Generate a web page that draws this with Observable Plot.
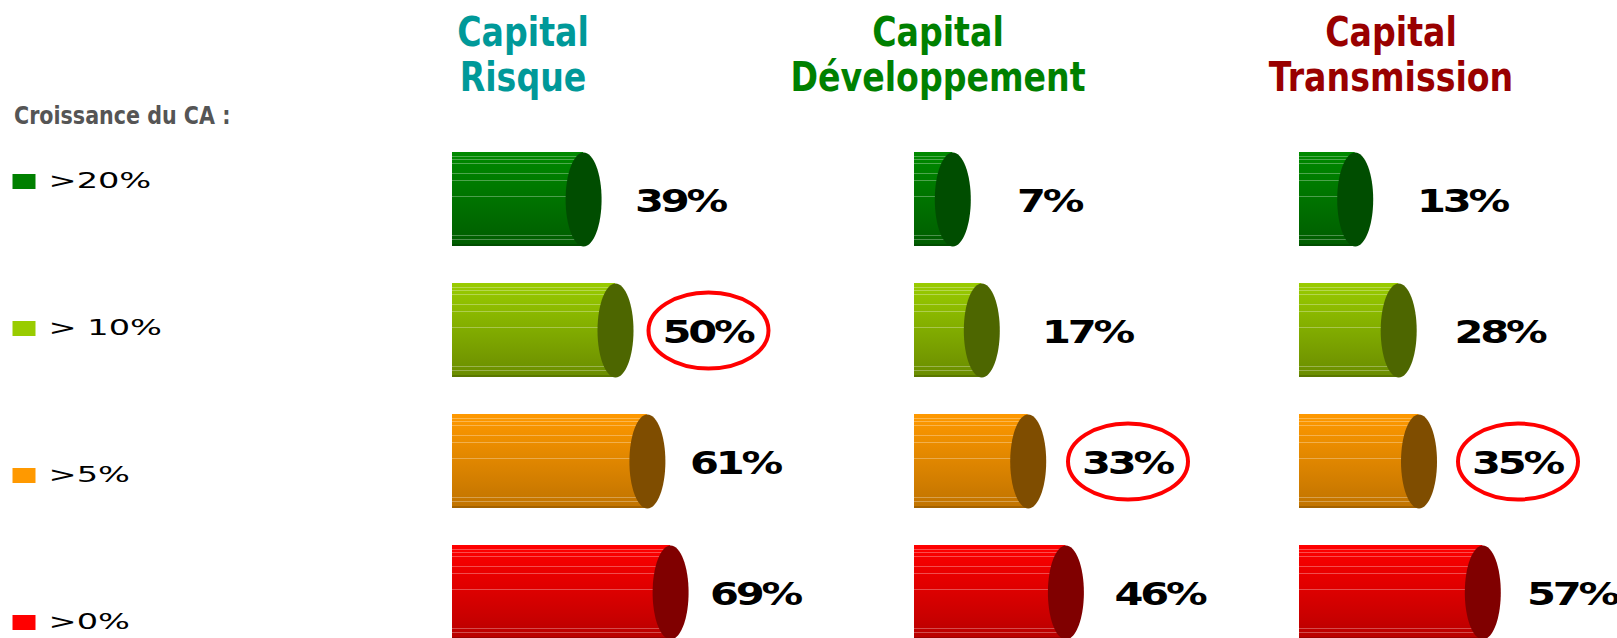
<!DOCTYPE html>
<html>
<head>
<meta charset="utf-8">
<script src="https://cdn.jsdelivr.net/npm/d3@7"></script>
<script src="https://cdn.jsdelivr.net/npm/@observablehq/plot@0.6"></script>
<style>
  html, body { margin: 0; padding: 0; background: #fff; overflow: hidden; }
  #chart { position: relative; width: 1617px; height: 638px; }
  #chart svg.layer { position: absolute; left: 0; top: 0; overflow: visible; }
  .title { position: absolute; top: 10px; font-family: "DejaVu Sans", sans-serif; font-weight: bold;
           font-size: 40px; line-height: 45px; text-align: center; white-space: nowrap;
           transform: translateX(-50%) scaleX(0.83); }
  .subtitle { position: absolute; left: 14px; top: 104px; font-family: "DejaVu Sans", sans-serif; font-weight: bold;
              font-size: 24px; line-height: 24px; color: #555; white-space: nowrap;
              transform-origin: 0 0; transform: scaleX(0.86); }
</style>
</head>
<body>
<div id="chart"></div>
<script>
// ---------- data ----------
const categories = [">20%", "> 10%", ">5%", ">0%"];
const funds = ["Capital Risque", "Capital Développement", "Capital Transmission"];
const valuesRisque = [39, 50, 61, 69];
const valuesDeveloppement = [7, 17, 33, 46];
const valuesTransmission = [13, 28, 35, 57];
const highlighted = ["> 10%", ">5%", ">5%"];
const legendTitle = "Croissance du CA :";
const legendColors = ["#008000", "#99cc00", "#ff9900", "#ff0000"];
const bodyTop = ["#008a00", "#99cc00", "#ff9900", "#ff0000"];
const bodyBottom = ["#005c00", "#6a8c00", "#c07300", "#b80000"];
const capColors = ["#004d00", "#4d6600", "#7f4d00", "#800000"];
const titleColors = ["#009999", "#008000", "#990000"];

// ---------- layout ----------
const W = 1617, H = 638;
const panelLeft = [452, 914, 1299];
const titleCenter = [523, 938, 1391];
const pxPerPct = 2.9;
const capRx = 18, capRy = 47;
// label placement: labels follow the bar end at a slightly slower rate
const labelRate = 2.5 / 2.9, labelOffsetPct = 85 / 2.9;

const chart = document.getElementById("chart");

// gradients
const defsSvg = d3.select(chart).append("svg").attr("width", 0).attr("height", 0)
  .style("position", "absolute");
const defs = defsSvg.append("defs");
const stripes = [0.045, 0.08, 0.12, 0.17, 0.23, 0.30, 0.475, 0.84, 0.89, 0.93];
categories.forEach((c, i) => {
  const g = defs.append("linearGradient").attr("id", "body" + i)
    .attr("x1", 0).attr("y1", 0).attr("x2", 0).attr("y2", 1);
  const interp = d3.interpolateRgb(bodyTop[i], bodyBottom[i]);
  const light = t => d3.interpolateRgb(interp(t), "#ffffff")(0.3);
  g.append("stop").attr("offset", 0).attr("stop-color", interp(0));
  stripes.forEach(s => {
    const a = s - 0.004, b = s + 0.004;
    g.append("stop").attr("offset", a).attr("stop-color", interp(a));
    g.append("stop").attr("offset", a).attr("stop-color", light(s));
    g.append("stop").attr("offset", b).attr("stop-color", light(s));
    g.append("stop").attr("offset", b).attr("stop-color", interp(b));
  });
  g.append("stop").attr("offset", 0.975).attr("stop-color", interp(0.975));
  g.append("stop").attr("offset", 0.975).attr("stop-color", d3.interpolateRgb(bodyBottom[i], "#000")(0.15));
  g.append("stop").attr("offset", 1).attr("stop-color", d3.interpolateRgb(bodyBottom[i], "#000")(0.15));
});

function ellipseSymbol(ratio) {
  return {
    draw(ctx, size) {
      const ry = Math.sqrt(size / Math.PI), rx = ry * ratio, k = 0.5522847;
      ctx.moveTo(rx, 0);
      ctx.bezierCurveTo(rx, k * ry, k * rx, ry, 0, ry);
      ctx.bezierCurveTo(-k * rx, ry, -rx, k * ry, -rx, 0);
      ctx.bezierCurveTo(-rx, -k * ry, -k * rx, -ry, 0, -ry);
      ctx.bezierCurveTo(k * rx, -ry, rx, -k * ry, rx, 0);
      ctx.closePath();
    }
  };
}
function rectSymbol(w, h) {
  return { draw(ctx) { ctx.rect(-w / 2, -h / 2, w, h); } };
}
function stretchTexts(svg, sx, spacing) {
  d3.select(svg).selectAll('g[aria-label="text"] text').each(function () {
    const tr = this.getAttribute("transform") || "";
    this.setAttribute("transform", tr + ` scale(${sx},1)`);
    if (spacing) this.style.letterSpacing = spacing;
  });
}

const seriesValues = [valuesRisque, valuesDeveloppement, valuesTransmission];

funds.forEach((fund, p) => {
  const rows = categories.map((cat, i) => ({ cat, i, value: seriesValues[p][i], hl: highlighted[p] === cat }));
  const labelX = d => d.value * labelRate + labelOffsetPct;
  const svg = Plot.plot({
    width: W, height: H, margin: 0,
    x: { domain: [0, 100], range: [panelLeft[p], panelLeft[p] + 100 * pxPerPct], axis: null },
    y: { type: "band", domain: categories, range: [133.5, 657.5], paddingInner: 0.282, paddingOuter: 0.141, axis: null },
    color: { type: "identity" },
    marks: [
      Plot.barX(rows, { x: "value", y: "cat", fill: d => `url(#body${d.i})`, insetRight: -capRx }),
      Plot.dot(rows, { x: "value", y: "cat", r: capRy, symbol: ellipseSymbol(capRx / capRy), fill: d => capColors[d.i], dx: capRx }),
      Plot.text(rows, { x: labelX, y: "cat", text: d => d.value + "%", dy: 2, textAnchor: "start",
        fontSize: 32, fontWeight: "bold", fontFamily: "DejaVu Sans", fill: "#000" }),
      Plot.dot(rows.filter(d => d.hl), { x: labelX, y: "cat", r: 38, symbol: ellipseSymbol(60 / 38),
        fill: "none", stroke: "#ff0000", strokeWidth: 4, dx: 46 })
    ]
  });
  svg.classList.add("layer");
  stretchTexts(svg, 1.3, "-2.5px");
  chart.appendChild(svg);

  const t = document.createElement("div");
  t.className = "title";
  t.style.left = titleCenter[p] + "px";
  t.style.color = titleColors[p];
  const parts = fund.split(" ");
  t.innerHTML = parts[0] + "<br>" + parts.slice(1).join(" ");
  chart.appendChild(t);
});

// legend
const legendRows = categories.map((cat, i) => ({ cat, i }));
const legend = Plot.plot({
  width: 300, height: H, margin: 0,
  x: { domain: [0, 1], range: [0, 300], axis: null },
  y: { type: "point", domain: categories, range: [180.5, 180.5 + 3 * 147.3], padding: 0, axis: null },
  color: { type: "identity" },
  marks: [
    Plot.dot(legendRows, { x: 0, y: "cat", symbol: rectSymbol(23, 15), r: 5, fill: d => legendColors[d.i], dx: 23.5 }),
    Plot.text(legendRows, { x: 0, y: "cat", text: "cat", dx: 48, dy: 0, textAnchor: "start", fontSize: 21,
      fontFamily: "DejaVu Sans", fill: "#000" })
  ]
});
legend.classList.add("layer");
stretchTexts(legend, 1.6);
chart.appendChild(legend);

const sub = document.createElement("div");
sub.className = "subtitle";
sub.textContent = legendTitle;
chart.appendChild(sub);
</script>
</body>
</html>
